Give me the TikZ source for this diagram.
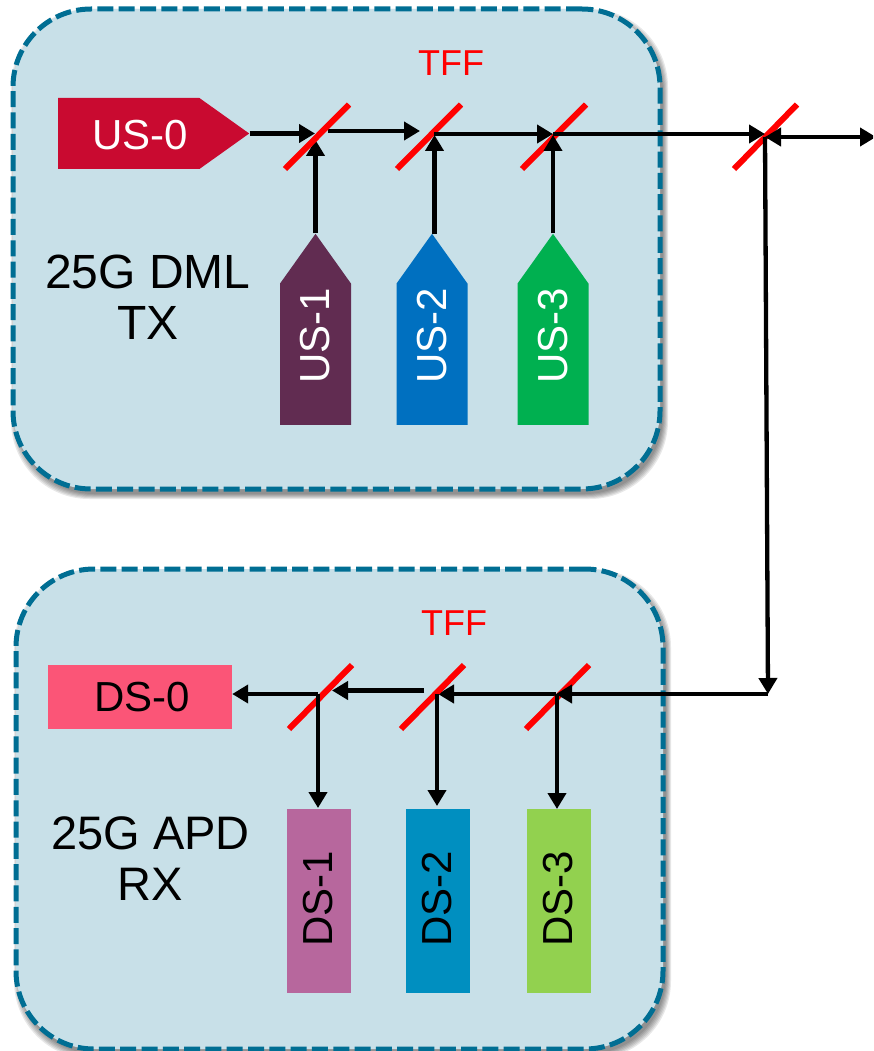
\documentclass[tikz,border=0pt]{standalone}
\usepackage{fontspec}
\setmainfont{Liberation Sans}
\usetikzlibrary{arrows.meta,shapes.symbols}
\definecolor{panelfill}{HTML}{C8E0E8}
\definecolor{panelline}{HTML}{006E93}
\definecolor{cUSa}{HTML}{C90A30}
\definecolor{cUSb}{HTML}{612C51}
\definecolor{cUSc}{HTML}{0070C0}
\definecolor{cUSd}{HTML}{00B050}
\definecolor{cDSa}{HTML}{FB5577}
\definecolor{cDSb}{HTML}{B7679D}
\definecolor{cDSc}{HTML}{008FC0}
\definecolor{cDSd}{HTML}{92D14F}
\newcommand{\fs}[1]{\fontsize{#1}{#1}\selectfont}
\newcommand{\rxtext}[1]{\hspace*{5pt}\raisebox{2pt}{#1}}
\tikzset{
  panelbox/.style={draw=panelline,fill=panelfill,line width=5pt,dash pattern=on 16pt off 5.3pt,rounded corners=78pt,minimum width=647pt,minimum height=480pt,inner sep=0pt},
  sigbox/.style={shape=signal,signal to=east,signal from=nowhere,signal pointer angle=71,minimum width=191pt,minimum height=71pt,inner sep=0pt},
  sigtext/.style={inner sep=0pt,text=white,font=\fs{42}},
  rxbox/.style={inner sep=0pt,text=black,font=\fs{42},minimum width=184pt,minimum height=64pt},
  mirror/.style={draw=red,line width=6pt},
  conn/.style={draw=black,line width=4.3pt},
  arr/.style={conn,-{Triangle[length=16pt,width=18pt]}},
  darr/.style={conn,{Triangle[length=16pt,width=18pt]}-{Triangle[length=16pt,width=18pt]}},
  lbl/.style={inner sep=0pt,align=center,text=black},
  tff/.style={inner sep=0pt,text=red,font=\fs{36}}
}
\begin{document}
\begin{tikzpicture}[x=1pt,y=-1pt]
\useasboundingbox (0,0) rectangle (873,1051);
\clip (0,0) rectangle (873,1051);
% shadows
\foreach \cx/\cy in {336.5/249,339.5/809}{
  \foreach \g in {0,1,2,3,4,5}{
    \fill[black,opacity=.09,rounded corners=78pt,shift={(\cx+3,\cy+5)}] (-323.5-\g,-240-\g) rectangle (323.5+\g,240+\g);
  }
}
% panels
\node[panelbox] (tx) at (336.5,249) {};
\node[panelbox] (rx) at (339.5,809) {};
% mirror reference points
\coordinate (md) at (765,137);
\coordinate (nc) at (556,694);
\coordinate (corner) at (768,694);
% transmit blocks
\node[sigbox,fill=cUSa,anchor=west] (us0) at (58,133.5) {};
\node[sigbox,fill=cUSb,rotate=90,anchor=west] (us1) at (315.5,425) {};
\node[sigbox,fill=cUSc,rotate=90,anchor=west] (us2) at (432,425) {};
\node[sigbox,fill=cUSd,rotate=90,anchor=west] (us3) at (553,425) {};
\node[sigtext] (t0) at (140,135) {US-0};
\node[sigtext,rotate=90] (t1) at (315.5,336) {US-1};
\node[sigtext,rotate=90] (t2) at (432,336) {US-2};
\node[sigtext,rotate=90] (t3) at (553,336) {US-3};
% receive blocks
\node[rxbox,fill=cDSa] (ds0) at (140,697) {\hspace*{4pt}DS-0};
\node[rxbox,fill=cDSb,rotate=90] (ds1) at (319,901) {\rxtext{DS-1}};
\node[rxbox,fill=cDSc,rotate=90] (ds2) at (438,901) {\rxtext{DS-2}};
\node[rxbox,fill=cDSd,rotate=90] (ds3) at (559,901) {\rxtext{DS-3}};
% labels
\node[lbl,font=\fontsize{48}{51}\selectfont] (l1) at (148,297.5) {25G DML\\TX};
\node[lbl,font=\fontsize{47}{51}\selectfont] (l2) at (150.5,858.5) {25G APD\\RX};
\node[tff] (f1) at (451,63) {TFF};
\node[tff] (f2) at (454,623) {TFF};
% connectors under the first two mirrors
\draw[arr] (us0.east) -- (315,133.5);
\draw[arr] (us1.east) -- (315.5,140);
\draw[arr] (434.5,234) -- (434.5,135);
\draw[arr] (328,131) -- (420,131);
\draw[arr] (318,694) -- (ds0.east |- 0,694);
\draw[arr] (424,690.5) -- (332,690.5);
\draw[arr] (nc) -- (438,694);
% mirrors
\path[mirror] (285,169) -- (349,104.5);
\path[mirror] (397,169) -- (461,104.5);
\path[mirror] (522,169) -- (586,104.5);
\path[mirror] (734,169) -- (797,104.5);
\path[mirror] (289,729) -- (352,665);
\path[mirror] (401,729) -- (464,665);
\path[mirror] (526,729) -- (589,665);
% connectors over the mirrors
\draw[arr] (434,134) -- (553,134);
\draw[arr] (us3.east) -- (553,135);
\draw[arr] (553,134) -- (765,134);
\draw[darr] (md) -- (876,137);
\draw[arr] (md) -- (corner);
\draw[arr] (corner) -- (nc);
\draw[arr] (318,694) -- (318,808);
\draw[arr] (437,694) -- (437,806);
\draw[arr] (557,694) -- (557,809);
\end{tikzpicture}
\end{document}
